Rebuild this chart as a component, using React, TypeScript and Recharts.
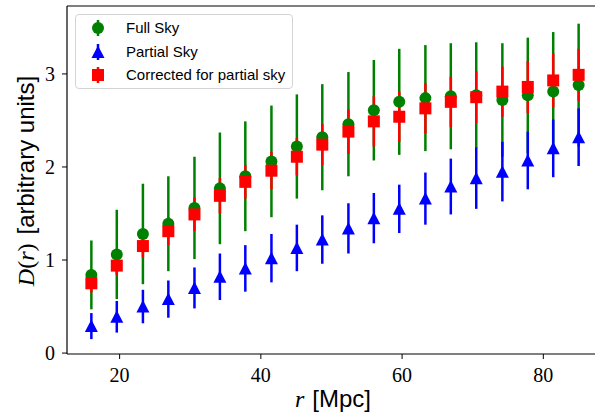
import React from 'react'
import { ScatterChart, Scatter, XAxis, YAxis, ErrorBar, ReferenceLine, Label } from 'recharts'

// separation r in Mpc
const R_MPC = [16.0, 19.6, 23.3, 26.9, 30.6, 34.2, 37.8, 41.5, 45.1, 48.7, 52.4, 56.0, 59.6, 63.3, 66.9, 70.5, 74.2, 77.8, 81.4, 85.0]

const FULL_SKY = [0.84, 1.06, 1.28, 1.39, 1.56, 1.77, 1.9, 2.06, 2.22, 2.32, 2.46, 2.61, 2.7, 2.74, 2.76, 2.77, 2.72, 2.77, 2.81, 2.88]
const FULL_SKY_ERR = [0.37, 0.48, 0.54, 0.51, 0.55, 0.6, 0.59, 0.6, 0.56, 0.57, 0.56, 0.54, 0.57, 0.57, 0.57, 0.57, 0.61, 0.62, 0.64, 0.66]

const PARTIAL_SKY = [0.29, 0.39, 0.5, 0.58, 0.7, 0.82, 0.91, 1.02, 1.13, 1.22, 1.34, 1.45, 1.55, 1.66, 1.79, 1.88, 1.95, 2.07, 2.2, 2.32]
const PARTIAL_SKY_ERR = [0.14, 0.17, 0.18, 0.2, 0.22, 0.25, 0.25, 0.26, 0.25, 0.26, 0.27, 0.27, 0.26, 0.28, 0.3, 0.33, 0.32, 0.31, 0.31, 0.31]

const CORRECTED = [0.75, 0.94, 1.15, 1.31, 1.49, 1.69, 1.84, 1.96, 2.11, 2.24, 2.38, 2.49, 2.54, 2.63, 2.7, 2.75, 2.81, 2.86, 2.93, 2.99]
const CORRECTED_ERR = [0.1, 0.1, 0.12, 0.15, 0.18, 0.19, 0.18, 0.2, 0.2, 0.22, 0.24, 0.27, 0.27, 0.27, 0.27, 0.28, 0.27, 0.28, 0.29, 0.28]

const X_TICKS = [20, 40, 60, 80]
const Y_TICKS = [0, 1, 2, 3]
const X_DOMAIN = [12.55, 88.45]
const Y_DOMAIN = [-0.01, 3.73]

const GREEN = '#008000'
const BLUE = '#0000ff'
const RED = '#ff0000'

const SERIF = '"Liberation Serif", serif'
const SANS = '"Liberation Sans", sans-serif'

const toRows = (ys: number[], errs: number[]) => R_MPC.map((r, i) => ({ r, y: ys[i], err: errs[i] }))

const fullRows = toRows(FULL_SKY, FULL_SKY_ERR)
const partialRows = toRows(PARTIAL_SKY, PARTIAL_SKY_ERR)
const correctedRows = toRows(CORRECTED, CORRECTED_ERR)

const Nothing = () => <g />
const Dot = (p: any) => <circle cx={p.cx} cy={p.cy} r={6} fill={GREEN} />
const Tri = (p: any) => (
  <polygon points={`${p.cx},${p.cy - 6.5} ${p.cx - 6.5},${p.cy + 6} ${p.cx + 6.5},${p.cy + 6}`} fill={BLUE} />
)
const Sq = (p: any) => <rect x={p.cx - 6} y={p.cy - 6} width={12} height={12} fill={RED} />

const AXIS_LINE = { stroke: '#000', strokeWidth: 1.2 }
const TICK = { fill: '#000', fontSize: 20, fontFamily: SERIF }

const LEGEND = [
  { label: 'Full Sky', color: GREEN, kind: 'circle' },
  { label: 'Partial Sky', color: BLUE, kind: 'tri' },
  { label: 'Corrected for partial sky', color: RED, kind: 'square' },
]

function LegendIcon({ kind, color }: { kind: string; color: string }) {
  return (
    <svg width={20} height={20} style={{ position: 'absolute', left: 12, top: 0 }}>
      <line x1={10} y1={2} x2={10} y2={18} stroke={color} strokeWidth={2.5} />
      {kind === 'circle' && <circle cx={10} cy={10} r={6} fill={color} />}
      {kind === 'tri' && <polygon points="10,3.5 3.5,16 16.5,16" fill={color} />}
      {kind === 'square' && <rect x={4} y={4} width={12} height={12} fill={color} />}
    </svg>
  )
}

export default function App() {
  return (
    <div style={{ position: 'absolute', left: 0, top: 0, width: 595, height: 418, overflow: 'hidden', background: '#fff' }}>
      <ScatterChart width={620} height={418} margin={{ top: 6, right: 17, bottom: 24, left: 7 }}>
        <XAxis
          dataKey="r"
          type="number"
          domain={X_DOMAIN}
          allowDataOverflow
          ticks={X_TICKS}
          height={40}
          tick={TICK}
          tickSize={5}
          tickMargin={9}
          tickLine={{ stroke: '#000' }}
          axisLine={AXIS_LINE}
        >
          <Label
            content={() => (
              <text x={333} y={407} textAnchor="middle" fontSize={24} fill="#000">
                <tspan fontFamily={SERIF} fontStyle="italic">r</tspan>
                <tspan fontFamily={SANS} dx={8}>[Mpc]</tspan>
              </text>
            )}
          />
        </XAxis>
        <YAxis
          dataKey="y"
          type="number"
          domain={Y_DOMAIN}
          allowDataOverflow
          ticks={Y_TICKS}
          width={60}
          tick={TICK}
          tickSize={5}
          tickMargin={7}
          tickLine={{ stroke: '#000' }}
          axisLine={AXIS_LINE}
        >
          <Label
            content={() => (
              <text x={34} y={181} textAnchor="middle" fontSize={24} fill="#000" transform="rotate(-90 34 181)">
                <tspan fontFamily={SERIF} fontStyle="italic">D</tspan>
                <tspan fontFamily={SERIF}>(</tspan>
                <tspan fontFamily={SERIF} fontStyle="italic">r</tspan>
                <tspan fontFamily={SERIF}>)</tspan>
                <tspan fontFamily={SANS} dx={9}>[arbitrary units]</tspan>
              </text>
            )}
          />
        </YAxis>
        <ReferenceLine y={Y_DOMAIN[1]} stroke="#000" strokeWidth={1.2} />

        {/* error bars first, like matplotlib draws them under every marker */}
        <Scatter data={fullRows} shape={Nothing} isAnimationActive={false}>
          <ErrorBar dataKey="err" direction="y" width={0} stroke={GREEN} strokeWidth={2.5} isAnimationActive={false} />
        </Scatter>
        <Scatter data={partialRows} shape={Nothing} isAnimationActive={false}>
          <ErrorBar dataKey="err" direction="y" width={0} stroke={BLUE} strokeWidth={2.5} isAnimationActive={false} />
        </Scatter>
        <Scatter data={correctedRows} shape={Nothing} isAnimationActive={false}>
          <ErrorBar dataKey="err" direction="y" width={0} stroke={RED} strokeWidth={2.5} isAnimationActive={false} />
        </Scatter>

        <Scatter data={fullRows} shape={Dot} isAnimationActive={false} />
        <Scatter data={partialRows} shape={Tri} isAnimationActive={false} />
        <Scatter data={correctedRows} shape={Sq} isAnimationActive={false} />
      </ScatterChart>

      <div
        style={{
          position: 'absolute', left: 75, top: 14, width: 218, height: 75, boxSizing: 'border-box',
          border: '1px solid #d4d4d4', borderRadius: 4, background: 'rgba(255,255,255,0.85)',
          fontFamily: SANS, fontSize: 15, color: '#000',
        }}
      >
        {LEGEND.map((item, i) => (
          <div key={item.label} style={{ position: 'absolute', left: 0, top: 3 + i * 23.5, height: 20, width: '100%' }}>
            <LegendIcon kind={item.kind} color={item.color} />
            <span style={{ position: 'absolute', left: 50, top: 0, lineHeight: '20px', whiteSpace: 'nowrap' }}>{item.label}</span>
          </div>
        ))}
      </div>
    </div>
  )
}
